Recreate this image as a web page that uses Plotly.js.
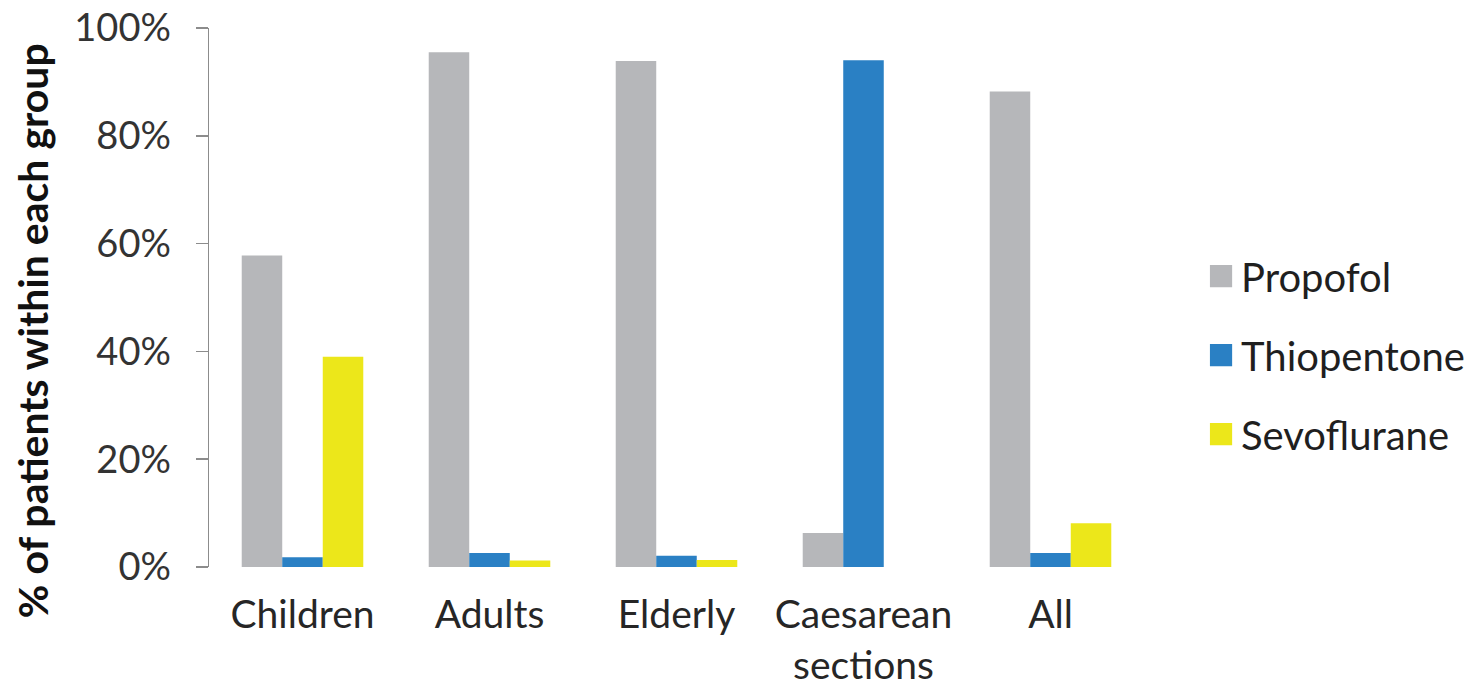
<!DOCTYPE html>
<html>
<head>
<meta charset="utf-8">
<script src="https://cdn.plot.ly/plotly-3.0.1.min.js"></script>
<style>
  html, body { margin: 0; padding: 0; background: #ffffff; }
  #chart { width: 1482px; height: 693px; }
</style>
</head>
<body>
<div id="chart"></div>
<script>
// Induction agent used, share of patients in each group (%)
const groups = ['Children', 'Adults', 'Elderly', 'Caesarean<br>sections', 'All'];
const propofol    = [57.8, 95.5, 93.9, 6.3, 88.2];
const thiopentone = [1.8, 2.6, 2.1, 94.0, 2.6];
const sevoflurane = [39.0, 1.2, 1.3, 0.0, 8.1];
const yTicks = [0, 20, 40, 60, 80, 100];

const FONT = 'Lato, "Open Sans", sans-serif';

function barTrace(name, values, color) {
  return {
    type: 'bar',
    name: name,
    x: groups,
    y: values,
    legendgroup: name,
    marker: { color: color, line: { width: 0 } },
    hoverinfo: 'x+y+name'
  };
}

const data = [
  barTrace('Propofol', propofol, '#b6b7ba'),
  barTrace('Thiopentone', thiopentone, '#2a80c4'),
  barTrace('Sevoflurane', sevoflurane, '#ece71a')
];

const layout = {
  width: 1482,
  height: 693,
  margin: { l: 209, r: 336, t: 28, b: 126 },
  paper_bgcolor: '#ffffff',
  plot_bgcolor: '#ffffff',
  barmode: 'group',
  bargap: 0.35,
  bargroupgap: 0,
  font: { family: FONT, color: '#262626', size: 38 },
  showlegend: true,
  legend: {
    x: 1.061, xanchor: 'left',
    y: 0.393, yanchor: 'middle',
    traceorder: 'grouped',
    tracegroupgap: 24,
    font: { family: FONT, size: 40, color: '#1f1f1f' },
    bgcolor: 'rgba(0,0,0,0)'
  },
  xaxis: {
    type: 'category',
    showline: false,
    showgrid: false,
    zeroline: false,
    ticks: '',
    ticklabelstandoff: 21,
    tickfont: { family: FONT, size: 39, color: '#262626' }
  },
  yaxis: {
    range: [0, 100],
    tickvals: yTicks,
    ticktext: yTicks.map(v => v + '%'),
    showgrid: false,
    zeroline: false,
    showline: true,
    linecolor: '#8c8c8c',
    linewidth: 1.5,
    ticks: 'outside',
    ticklen: 12,
    tickwidth: 1.5,
    tickcolor: '#8c8c8c',
    ticklabelstandoff: 17,
    tickfont: { family: FONT, size: 38, color: '#333333' }
  },
  annotations: [{
    text: '<b>% of patients within each group</b>',
    textangle: -90,
    xref: 'paper', yref: 'paper',
    x: -0.188, xanchor: 'center',
    y: 0.438, yanchor: 'middle',
    showarrow: false,
    font: { family: FONT, size: 41, color: '#111111' }
  }]
};

Plotly.newPlot('chart', data, layout, { displayModeBar: false, staticPlot: true }).then(function () {
  // enlarge the legend swatches
  document.querySelectorAll('.legend .legendpoints path').forEach(function (p) {
    const t = p.getAttribute('transform') || '';
    p.setAttribute('transform', t + ' scale(1.85)');
  });
});
</script>
</body>
</html>
